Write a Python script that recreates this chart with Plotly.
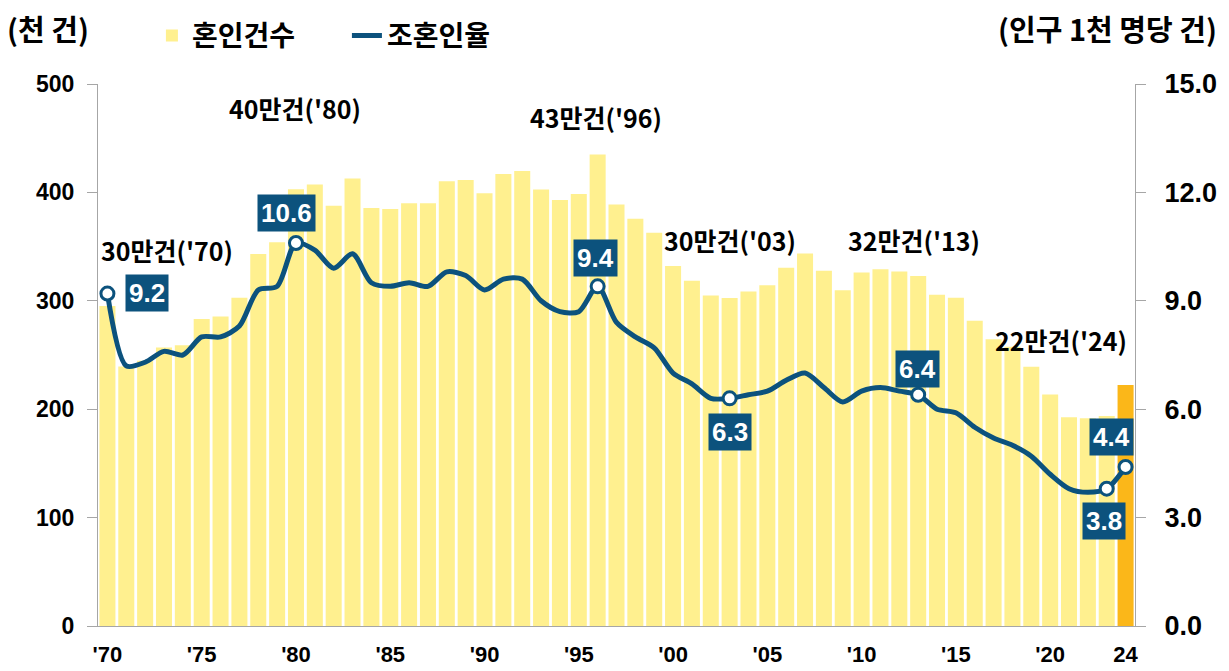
import plotly.graph_objects as go

years = list(range(1970, 2025))
marriages = [
    295.1, 239.5, 244.8, 257.0, 259.1, 283.2, 285.5, 302.9, 343.1, 354.1,
    403.0, 407.4, 387.7, 412.8, 385.7, 384.6, 390.0, 390.0, 410.3, 411.4,
    399.3, 416.9, 419.8, 402.6, 393.1, 398.5, 434.9, 388.9, 375.6, 362.7,
    332.1, 318.4, 304.9, 302.5, 308.6, 314.3, 330.6, 343.6, 327.7, 309.8,
    326.1, 329.1, 327.1, 322.8, 305.5, 302.8, 281.6, 264.5, 257.6, 239.2,
    213.5, 192.5, 191.7, 193.7, 222.4,
]
rate = [
    9.2, 7.2, 7.3, 7.6, 7.5, 8.0, 8.0, 8.3, 9.3, 9.4,
    10.6, 10.4, 9.9, 10.3, 9.5, 9.4, 9.5, 9.4, 9.8, 9.7,
    9.3, 9.6, 9.6, 9.0, 8.7, 8.7, 9.4, 8.4, 8.0, 7.7,
    7.0, 6.7, 6.3, 6.3, 6.4, 6.5, 6.8, 7.0, 6.6, 6.2,
    6.5, 6.6, 6.5, 6.4, 6.0, 5.9, 5.5, 5.2, 5.0, 4.7,
    4.2, 3.8, 3.7, 3.8, 4.4,
]
tick_years = [1970, 1975, 1980, 1985, 1990, 1995, 2000, 2005, 2010, 2015, 2020, 2024]
tick_text = ["'70", "'75", "'80", "'85", "'90", "'95", "'00", "'05", "'10", "'15", "'20", "24"]

# highlighted rate points: (year, label, xshift, yshift)
rate_marks = [
    (1970, "9.2", 40, 1), (1980, "10.6", -9, 30), (1996, "9.4", -2, 28),
    (2003, "6.3", 0, -34), (2013, "6.4", -1, 26), (2023, "3.8", -3, -32),
    (2024, "4.4", -14, 30),
]
# peak count notes: (text, year, value)
count_notes = [
    ("30만건('70)", 1973.15, 347), ("40만건('80)", 1979.95, 478),
    ("43만건('96)", 1995.9, 470), ("30만건('03)", 2003.0, 356),
    ("32만건('13)", 2012.8, 356), ("22만건('24)", 2020.6, 264),
]

BAR = "#FFF08F"
BAR_LAST = "#FBB719"
LINE = "#0C527D"
FONT = "Noto Sans CJK KR"
NUM = "Liberation Sans, Arial"

fig = go.Figure()
fig.add_trace(go.Bar(
    x=years, y=marriages, name="<b>혼인건수</b>",
    marker=dict(color=[BAR] * (len(years) - 1) + [BAR_LAST], line=dict(width=0)),
))
fig.add_trace(go.Scatter(
    x=years, y=rate, name="<b>조혼인율</b>", yaxis="y2", mode="lines",
    line=dict(color=LINE, width=5, shape="spline", smoothing=0.8),
))
mx = [m[0] for m in rate_marks]
my = [rate[years.index(y)] for y in mx]
fig.add_trace(go.Scatter(
    x=mx, y=my, yaxis="y2", mode="markers", showlegend=False,
    marker=dict(size=13, color="white", line=dict(color=LINE, width=3)),
))

for (yr, txt, xs, ys), val in zip(rate_marks, my):
    fig.add_annotation(
        x=yr, y=val, yref="y2", text=f"<b>{txt}</b>", showarrow=False,
        xshift=xs, yshift=ys, bgcolor=LINE, borderpad=3,
        font=dict(family=NUM, size=26, color="white"),
    )
for txt, xv, yv in count_notes:
    fig.add_annotation(
        x=xv, y=yv, text=f"<b>{txt}</b>", showarrow=False,
        font=dict(family=FONT, size=25, color="black"),
    )

# axis unit captions above the plot
fig.add_annotation(x=-0.0897, xref="paper", xanchor="left", y=1.103, yref="paper",
                   yanchor="middle", text="<b>(천 건)</b>", showarrow=False,
                   font=dict(family=FONT, size=29, color="black"))
fig.add_annotation(x=1.081, xref="paper", xanchor="right", y=1.103, yref="paper",
                   yanchor="middle", text="<b>(인구 1천 명당 건)</b>", showarrow=False,
                   font=dict(family=FONT, size=29, color="black"))

# page body adds an 8px offset, so the figure is 8px smaller
fig.update_layout(
    width=1221, height=663,
    paper_bgcolor="white", plot_bgcolor="white",
    margin=dict(l=90, r=94, t=76, b=45, autoexpand=False),
    bargap=0.15,
    font=dict(family=FONT, color="black"),
    legend=dict(orientation="h", x=0.052, y=1.089, xanchor="left", yanchor="middle",
                font=dict(family=FONT, size=28, color="black"), bgcolor="rgba(0,0,0,0)",
                entrywidth=150, traceorder="normal"),
    xaxis=dict(range=[1969.5, 2024.5], tickvals=tick_years, ticktext=tick_text,
               showline=True, linecolor="#A6A6A6", linewidth=1, ticks="",
               ticklabelstandoff=9, automargin=False,
               tickfont=dict(family=NUM, size=22, color="black", weight="bold"),
               showgrid=False, zeroline=False),
    yaxis=dict(range=[0, 500], dtick=100, showline=True, linecolor="#A6A6A6",
               ticks="outside", ticklen=10, tickcolor="#A6A6A6", showgrid=False,
               zeroline=False, ticklabelstandoff=8, automargin=False,
               tickfont=dict(family=NUM, size=23, color="black", weight="bold")),
    yaxis2=dict(range=[0, 15], dtick=3, tickformat=".1f", overlaying="y", side="right",
                showline=True, linecolor="#A6A6A6", ticks="outside", ticklen=10,
                tickcolor="#A6A6A6", showgrid=False, zeroline=False, ticklabelstandoff=13,
                automargin=False,
                tickfont=dict(family=NUM, size=27, color="black", weight="bold")),
)

fig.write_html("out.html")
